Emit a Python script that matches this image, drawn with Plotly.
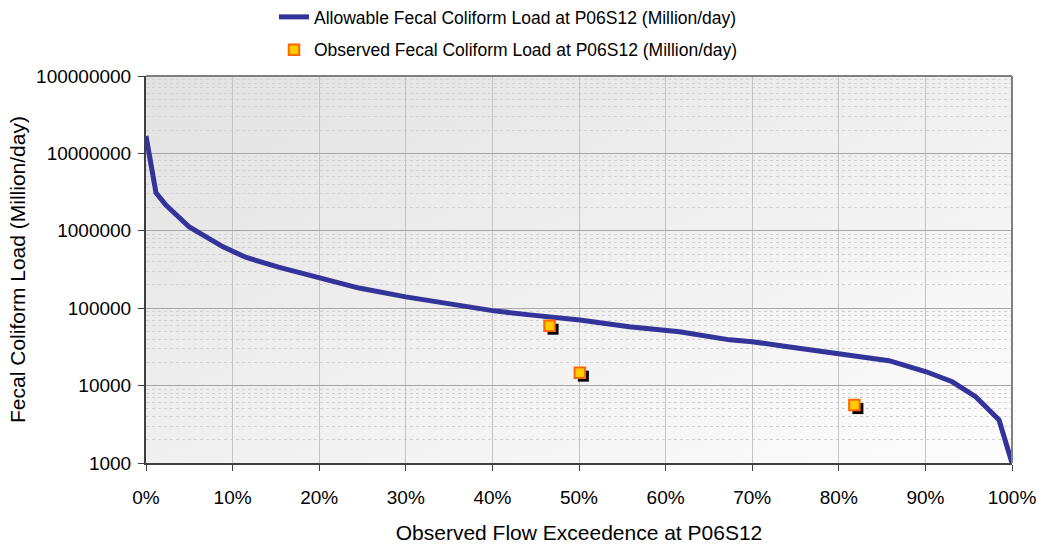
import base64
import plotly.graph_objects as go

# ---- data ----
exceed = [0.0, 0.0115, 0.023, 0.050, 0.089, 0.115, 0.153, 0.200, 0.246, 0.300,
          0.346, 0.400, 0.443, 0.501, 0.558, 0.616, 0.674, 0.700, 0.735, 0.792,
          0.824, 0.858, 0.901, 0.931, 0.958, 0.985, 1.0]
allowable = [16.8e6, 3.1e6, 2.15e6, 1.12e6, 620e3, 455e3, 340e3, 245e3, 182e3, 140e3,
             117e3, 93e3, 82e3, 70.5e3, 57.7e3, 49.7e3, 39e3, 36.9e3, 32.5e3, 26.6e3,
             23.6e3, 21.0e3, 15.1e3, 11.2e3, 7.2e3, 3.6e3, 1.0e3]
obs_exceed = [0.466, 0.501, 0.818]
obs_load = [59400, 14700, 5600]

name_line = "Allowable Fecal Coliform Load at P06S12 (Million/day)"
name_obs = "Observed Fecal Coliform Load at P06S12 (Million/day)"
x_title = "Observed Flow Exceedence at P06S12"
y_title = "Fecal Coliform Load (Million/day)"

FONT = "Liberation Sans, Arial, sans-serif"
W, H = 1039, 544
L, R, T, B = 146, 27, 76, 81
PW, PH = W - L - R, H - T - B
YMIN, YMAX = 3, 8
shadow_px = 3.5

fig = go.Figure()

fig.add_trace(go.Scatter(
    x=exceed, y=allowable, mode="lines", name=name_line,
    line=dict(color="#333399", width=5), legendgroup="a"))

# shadow of observed markers, drawn on offset overlay axes
dx = shadow_px / PW * 1.0
dy = shadow_px / PH * (YMAX - YMIN)
fig.add_trace(go.Scatter(
    x=obs_exceed, y=obs_load, mode="markers", showlegend=False,
    xaxis="x2", yaxis="y2", hoverinfo="skip",
    marker=dict(symbol="square", size=11, color="black",
                line=dict(color="black", width=0))))

fig.add_trace(go.Scatter(
    x=obs_exceed, y=obs_load, mode="markers", name=name_obs,
    xaxis="x3", yaxis="y3",
    marker=dict(symbol="square", size=10.5, color="#ffcc00",
                line=dict(color="#ff6600", width=2)), legendgroup="b"))

svg = (
    '<svg xmlns="http://www.w3.org/2000/svg" width="100" height="100" '
    'preserveAspectRatio="none" viewBox="0 0 100 100">'
    '<defs><linearGradient id="g" x1="0" y1="0" x2="1" y2="1">'
    '<stop offset="0" stop-color="#e2e2e2"/>'
    '<stop offset="1" stop-color="#fdfdfd"/>'
    '</linearGradient></defs>'
    '<rect width="100" height="100" fill="url(#g)"/></svg>'
)
src = "data:image/svg+xml;base64," + base64.b64encode(svg.encode()).decode()

fig.update_layout(
    width=W, height=H,
    margin=dict(l=L, r=R, t=T, b=B, autoexpand=False),
    paper_bgcolor="white",
    plot_bgcolor="rgba(0,0,0,0)",
    font=dict(family=FONT, size=19, color="black"),
    showlegend=True,
    legend=dict(x=(274 - L) / PW, xanchor="left", y=1 + 77 / PH, yanchor="top",
                font=dict(size=17.5), traceorder="grouped", tracegroupgap=7,
                bgcolor="rgba(0,0,0,0)"),
    images=[dict(source=src, xref="paper", yref="paper", x=0, y=1,
                 sizex=1, sizey=1, sizing="stretch", layer="below",
                 xanchor="left", yanchor="top")],
    xaxis=dict(range=[0, 1], dtick=0.1, tickformat=".0%",
               showgrid=True, gridcolor="#c4c4c4", gridwidth=1,
               showline=True, linecolor="#404040", linewidth=2,
               ticks="outside", ticklen=6, tickcolor="#404040", tickwidth=1,
               ticklabelstandoff=10,
               title=dict(text=x_title, font=dict(size=21), standoff=21),
               zeroline=False),
    yaxis=dict(type="log", range=[YMIN, YMAX], dtick=1, tickformat="d",
               showgrid=True, gridcolor="#a6a6a6", gridwidth=1,
               minor=dict(dtick="D1", showgrid=True, gridcolor="#d2d2d2",
                          griddash="dot", ticks=""),
               showline=True, linecolor="#404040", linewidth=2,
               ticks="outside", ticklen=6, tickcolor="#404040", tickwidth=1,
               ticklabelstandoff=3,
               title=dict(text=y_title, font=dict(size=21), standoff=5),
               zeroline=False),
    xaxis2=dict(overlaying="x", range=[0 - dx, 1 - dx], visible=False,
                showgrid=False, zeroline=False),
    yaxis2=dict(overlaying="y", type="log", range=[YMIN + dy, YMAX + dy],
                visible=False, showgrid=False, zeroline=False),
    xaxis3=dict(overlaying="x", range=[0, 1], visible=False,
                showgrid=False, zeroline=False),
    yaxis3=dict(overlaying="y", type="log", range=[YMIN, YMAX],
                visible=False, showgrid=False, zeroline=False),
    shapes=[
        dict(type="line", xref="paper", yref="paper", x0=0, x1=1, y0=1, y1=1,
             line=dict(color="#808080", width=2)),
        dict(type="line", xref="paper", yref="paper", x0=1, x1=1, y0=0, y1=1,
             line=dict(color="#808080", width=2)),
    ],
)

fig.write_html("out.html", config={"displayModeBar": False},
               post_script="document.body.style.margin='0px';"
                           "document.body.style.overflow='hidden';")
